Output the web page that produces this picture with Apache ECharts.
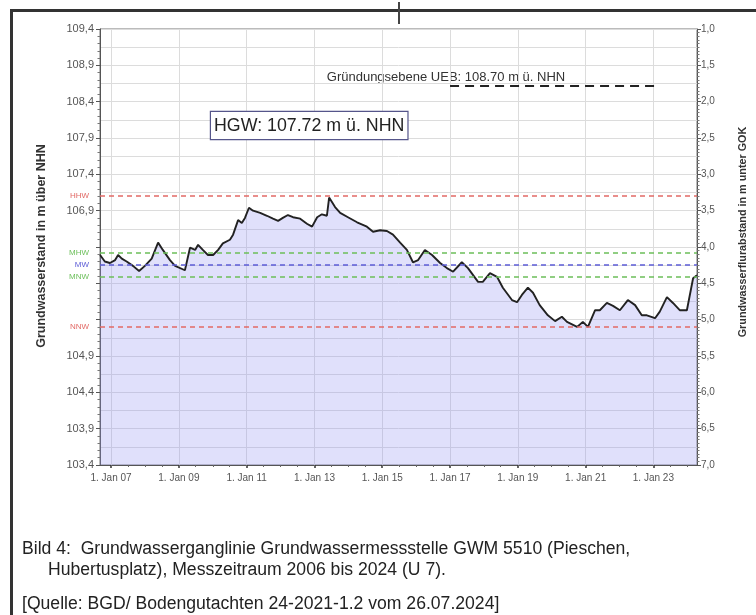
<!DOCTYPE html>
<html>
<head>
<meta charset="utf-8">
<title>Grundwasserganglinie GWM 5510</title>
<script src="https://cdn.jsdelivr.net/npm/echarts@6/dist/echarts.min.js"></script>
<style>
  html, body { margin: 0; padding: 0; background: #fff; }
  #chart { width: 756px; height: 615px; }
</style>
</head>
<body>
<div id="chart"></div>
<script>
const dates = [
  '2006-09-05', '2006-10-26', '2006-12-20', '2007-02-14', '2007-03-18', '2007-04-27', '2007-06-18', '2007-08-25', '2007-10-30', '2008-01-01',
  '2008-03-14', '2008-05-22', '2008-07-12', '2008-09-27', '2008-11-21', '2009-03-07', '2009-05-01', '2009-06-25', '2009-07-27', '2009-09-16',
  '2009-11-10', '2010-01-05', '2010-02-28', '2010-04-20', '2010-07-05', '2010-08-08', '2010-10-01', '2010-11-10', '2010-12-14', '2011-01-26',
  '2011-03-11', '2011-05-27', '2011-08-08', '2011-10-12', '2011-12-06', '2012-01-26', '2012-03-21', '2012-05-15', '2012-07-31', '2012-10-12',
  '2012-12-06', '2013-01-30', '2013-03-22', '2013-05-15', '2013-06-08', '2013-08-11', '2013-10-05', '2013-12-28', '2014-04-05', '2014-07-20',
  '2014-09-24', '2014-12-10', '2015-02-21', '2015-04-27', '2015-07-13', '2015-09-24', '2015-11-28', '2016-01-23', '2016-04-05', '2016-06-21',
  '2016-09-16', '2016-11-28', '2017-02-03', '2017-05-08', '2017-07-13', '2017-10-30', '2017-12-20', '2018-03-07', '2018-05-22', '2018-07-24',
  '2018-10-30', '2018-12-24', '2019-02-14', '2019-04-20', '2019-06-14', '2019-08-25', '2019-11-21', '2020-02-07', '2020-04-20', '2020-06-14',
  '2020-10-01', '2020-12-02', '2021-01-26', '2021-04-13', '2021-06-03', '2021-08-18', '2021-10-23', '2022-01-05', '2022-04-01', '2022-06-18',
  '2022-08-29', '2022-10-23', '2023-01-19', '2023-03-11', '2023-05-27', '2023-07-31', '2023-10-12', '2023-12-28', '2024-03-04', '2024-04-14'
]
const levels = [
  106.29, 106.20, 106.18, 106.22, 106.29, 106.24, 106.20, 106.14, 106.07, 106.14,
  106.24, 106.46, 106.36, 106.22, 106.14, 106.08, 106.39, 106.36, 106.43, 106.36,
  106.29, 106.29, 106.36, 106.45, 106.50, 106.57, 106.77, 106.73, 106.80, 106.94,
  106.90, 106.87, 106.83, 106.79, 106.76, 106.80, 106.84, 106.81, 106.79, 106.72,
  106.68, 106.81, 106.85, 106.83, 107.08, 106.95, 106.87, 106.81, 106.74, 106.68,
  106.61, 106.63, 106.62, 106.57, 106.46, 106.36, 106.19, 106.22, 106.36, 106.29,
  106.18, 106.11, 106.06, 106.19, 106.11, 105.92, 105.92, 106.04, 105.99, 105.84,
  105.67, 105.64, 105.74, 105.84, 105.77, 105.60, 105.46, 105.38, 105.44, 105.37,
  105.30, 105.37, 105.30, 105.53, 105.53, 105.63, 105.59, 105.53, 105.67, 105.60,
  105.46, 105.46, 105.42, 105.51, 105.71, 105.63, 105.53, 105.53, 105.97, 106.01
]

// Kennwerte (m ü. NHN)
const refNames = ['HHW', 'MHW', 'MW', 'MNW', 'NNW']
const refLevels = [107.10, 106.32, 106.15, 105.99, 105.30]

// Gründungsebene UEB (Linie wie im Bild eingezeichnet)
const uebLevel = 108.62
const uebRange = ['2017-01-01', '2023-02-01']

// Achsen
const GOK = 110.4 // Geländeoberkante, m ü. NHN
const levelRange = [103.4, 109.4]
const depthRange = [1, 7]
const dateRange = ['2006-09-04', '2024-04-15']
const labelYears = [2007, 2009, 2011, 2013, 2015, 2017, 2019, 2021, 2023]
const hiddenLevelLabels = ['106,4', '105,9', '105,4']

const refColors = { HHW: '#e26a66', MHW: '#6cbf5a', MW: '#5c5cd6', MNW: '#6cbf5a', NNW: '#e26a66' }

const t = (s) => echarts.time.parse(s)
const xMin = t(dateRange[0])
const xMax = t(dateRange[1])
const majorTicks = labelYears.map(y => t(y + '-01-01'))
const minorTicks = []
for (let y = 2006; y <= 2024; y++) {
  ['-01-01', '-07-01'].forEach(m => {
    const v = t(y + m)
    if (v > xMin && v < xMax) minorTicks.push(v)
  })
}

const comma = (v) => v.toFixed(1).replace('.', ',')
const font = '"Liberation Sans", Arial, sans-serif'

const chart = echarts.init(document.getElementById('chart'))

chart.setOption({
  animation: false,
  textStyle: { fontFamily: font },
  grid: {
    left: 100,
    right: 59,
    top: 29,
    bottom: 150,
    show: true,
    borderColor: '#777',
    borderWidth: 1
  },
  xAxis: [
    {
      type: 'value',
      position: 'bottom',
      min: xMin,
      max: xMax,
      axisLine: { show: true, lineStyle: { color: '#555' } },
      axisTick: { show: true, length: 3, customValues: majorTicks, lineStyle: { color: '#333', width: 1.5 } },
      axisLabel: {
        customValues: majorTicks,
        fontSize: 10,
        color: '#555',
        margin: 8,
        formatter: (v) => '1. Jan ' + String(new Date(v).getFullYear()).slice(2)
      },
      splitLine: { show: true, lineStyle: { color: '#dcdcdc' } }
    },
    {
      type: 'value',
      position: 'bottom',
      min: xMin,
      max: xMax,
      axisLine: { show: false },
      axisTick: { show: true, length: 2, customValues: minorTicks, lineStyle: { color: '#666' } },
      axisLabel: { show: false },
      splitLine: { show: false }
    }
  ],
  yAxis: [
    {
      // Wasserstand, trägt die Ganglinie
      type: 'value',
      position: 'left',
      min: levelRange[0],
      max: levelRange[1],
      show: false
    },
    {
      type: 'value',
      position: 'left',
      min: depthRange[0],
      max: depthRange[1],
      interval: 0.5,
      inverse: true,
      axisLine: { show: true, lineStyle: { color: '#555' } },
      axisTick: { show: true, length: 4, lineStyle: { color: '#555' } },
      minorTick: { show: true, splitNumber: 5, length: 2.5, lineStyle: { color: '#777' } },
      axisLabel: {
        fontSize: 11,
        color: '#555',
        margin: 6,
        formatter: (v) => {
          const s = comma(GOK - v)
          return hiddenLevelLabels.includes(s) ? '' : s
        }
      },
      splitLine: { show: false }
    },
    {
      type: 'value',
      position: 'right',
      min: depthRange[0],
      max: depthRange[1],
      interval: 0.5,
      inverse: true,
      axisLine: { show: true, lineStyle: { color: '#555' } },
      axisTick: { show: true, length: 4, lineStyle: { color: '#555' } },
      minorTick: { show: true, splitNumber: 10, length: 2.5, lineStyle: { color: '#777' } },
      axisLabel: { fontSize: 10, color: '#555', margin: 4, formatter: comma },
      splitLine: { show: false }
    },
    {
      // nur Gitternetz
      type: 'value',
      position: 'left',
      min: depthRange[0],
      max: depthRange[1],
      interval: 0.25,
      inverse: true,
      axisLine: { show: false },
      axisTick: { show: false },
      axisLabel: { show: false },
      splitLine: { show: true, lineStyle: { color: '#dcdcdc' } }
    }
  ],
  series: [
    {
      name: 'Grundwasserstand',
      type: 'line',
      xAxisIndex: 0,
      yAxisIndex: 0,
      data: dates.map((d, i) => [t(d), levels[i]]),
      showSymbol: false,
      symbol: 'none',
      lineStyle: { color: '#222', width: 1.9 },
      areaStyle: { color: 'rgba(150, 150, 240, 0.42)', origin: 'start' },
      z: 3,
      markLine: {
        silent: true,
        symbol: ['none', 'none'],
        animation: false,
        data: refNames.map((n, i) => ({
          name: n,
          yAxis: refLevels[i],
          lineStyle: { color: refColors[n], type: [5, 4], width: 1.5 },
          label: { show: true, position: 'start', formatter: n, color: refColors[n], fontSize: 8, distance: 11 }
        })).concat([[
          {
            coord: [t(uebRange[0]), uebLevel],
            lineStyle: { color: '#222', type: [9, 6], width: 2 },
            label: { show: false }
          },
          { coord: [t(uebRange[1]), uebLevel] }
        ]])
      }
    }
  ],
  graphic: [
    // Rahmen
    { type: 'line', shape: { x1: 11.5, y1: 10, x2: 11.5, y2: 615 }, style: { stroke: '#333', lineWidth: 3 } },
    { type: 'line', shape: { x1: 10, y1: 10.5, x2: 756, y2: 10.5 }, style: { stroke: '#333', lineWidth: 3 } },
    { type: 'line', shape: { x1: 399, y1: 2, x2: 399, y2: 24 }, style: { stroke: '#444', lineWidth: 2 } },
    // Achsentitel
    {
      type: 'text', x: 42, y: 246, rotation: Math.PI / 2,
      style: { text: 'Grundwasserstand in m über NHN', font: 'bold 12.5px ' + font, fill: '#333', align: 'center', verticalAlign: 'middle' }
    },
    {
      type: 'text', x: 743, y: 232, rotation: Math.PI / 2,
      style: { text: 'Grundwasserflurabstand in m unter GOK', font: 'bold 10.8px ' + font, fill: '#333', align: 'center', verticalAlign: 'middle' }
    },
    // Beschriftungen im Diagramm
    {
      type: 'text', x: 446, y: 77,
      style: { text: 'Gründungsebene UEB: 108.70 m ü. NHN', font: '13px ' + font, fill: '#333', align: 'center', verticalAlign: 'middle' }
    },
    {
      type: 'text', x: 211, y: 112, z: 10,
      style: {
        text: 'HGW: 107.72 m ü. NHN', font: '17.8px ' + font, fill: '#222',
        backgroundColor: '#fff', borderColor: '#55558a', borderWidth: 1.2, padding: [5, 3, 4, 3]
      }
    },
    // Bildunterschrift
    {
      type: 'text', x: 22, y: 549,
      style: { text: 'Bild 4:  Grundwasserganglinie Grundwassermessstelle GWM 5510 (Pieschen,', font: '17.6px ' + font, fill: '#222', verticalAlign: 'middle' }
    },
    {
      type: 'text', x: 48, y: 570,
      style: { text: 'Hubertusplatz), Messzeitraum 2006 bis 2024 (U 7).', font: '17.6px ' + font, fill: '#222', verticalAlign: 'middle' }
    },
    {
      type: 'text', x: 22, y: 604,
      style: { text: '[Quelle: BGD/ Bodengutachten 24-2021-1.2 vom 26.07.2024]', font: '17.6px ' + font, fill: '#222', verticalAlign: 'middle' }
    }
  ]
})
</script>
</body>
</html>
